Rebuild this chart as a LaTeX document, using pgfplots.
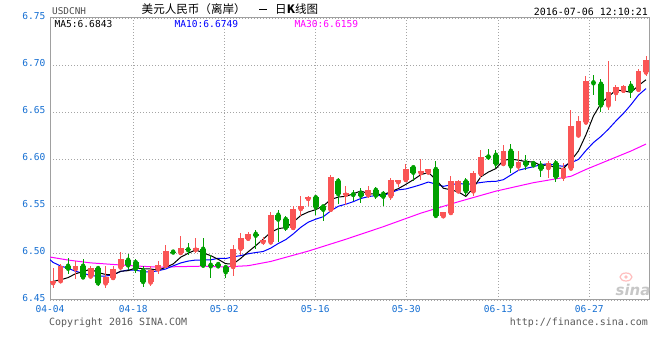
\documentclass[border=0pt]{standalone}
\usepackage{pgfplots}
\pgfplotsset{compat=1.18}
\usepackage{pgfplotstable}
\usepackage{fontspec}
\setmainfont{DejaVu Sans}
\newfontfamily\mono{DejaVu Sans Mono}
\newfontfamily\cjk{Noto Sans CJK SC}
\newcommand{\mf}{\mono\fontsize{9.6}{11}\selectfont}
\definecolor{upred}{RGB}{250,85,85}
\definecolor{dngreen}{RGB}{0,160,0}
\definecolor{tickblue}{RGB}{20,110,210}
\definecolor{framegray}{RGB}{160,160,160}
\definecolor{gridgray}{RGB}{165,165,165}
\definecolor{ma30}{RGB}{255,0,255}
\definecolor{ma10}{RGB}{0,0,255}

\pgfplotstableread{
i o h l c
1 6.4680 6.4840 6.4630 6.4700
2 6.4700 6.4880 6.4690 6.4865
4 6.4830 6.4920 6.4727 6.4865
6 6.4750 6.4860 6.4730 6.4840
8 6.4677 6.4857 6.4630 6.4740
9 6.4734 6.4857 6.4713 6.4833
10 6.4847 6.5010 6.4820 6.4940
14 6.4687 6.4857 6.4652 6.4822
15 6.4826 6.4910 6.4780 6.4872
16 6.4865 6.5088 6.4857 6.5024
18 6.5000 6.5177 6.4983 6.5053
20 6.5035 6.5160 6.5000 6.5053
25 6.4851 6.5088 6.4751 6.5046
26 6.5046 6.5213 6.4980 6.5160
27 6.5152 6.5220 6.5140 6.5205
29 6.5117 6.5170 6.5090 6.5141
30 6.5113 6.5432 6.5106 6.5408
33 6.5266 6.5496 6.5248 6.5468
34 6.5468 6.5610 6.5390 6.5496
35 6.5575 6.5603 6.5504 6.5593
38 6.5460 6.5835 6.5450 6.5809
40 6.5620 6.5716 6.5509 6.5636
43 6.5615 6.5716 6.5588 6.5668
46 6.5604 6.5801 6.5567 6.5772
47 6.5753 6.5780 6.5705 6.5774
48 6.5777 6.5945 6.5759 6.5894
50 6.5851 6.5998 6.5780 6.5870
51 6.5857 6.5897 6.5844 6.5894
53 6.5391 6.5439 6.5381 6.5431
54 6.5426 6.5822 6.5408 6.5769
55 6.5656 6.5780 6.5635 6.5762
57 6.5656 6.5869 6.5602 6.5851
58 6.5840 6.6091 6.5798 6.6017
61 6.5947 6.6152 6.5921 6.6088
63 6.5921 6.6081 6.5868 6.5964
67 6.5904 6.5974 6.5798 6.5957
69 6.5809 6.5957 6.5762 6.5904
70 6.5899 6.6524 6.5886 6.6347
71 6.6251 6.6453 6.6243 6.6407
72 6.6389 6.6886 6.6383 6.6825
75 6.6570 6.7038 6.6517 6.6709
76 6.6702 6.6790 6.6613 6.6762
77 6.6726 6.6785 6.6720 6.6780
79 6.6737 6.6957 6.6730 6.6932
80 6.6921 6.7091 6.6879 6.7056
}\upcandles

\pgfplotstableread{
i o h l c
3 6.4865 6.4947 6.4777 6.4833
5 6.4865 6.4940 6.4730 6.4740
7 6.4840 6.4857 6.4645 6.4677
11 6.4929 6.4990 6.4820 6.4868
12 6.4904 6.4936 6.4787 6.4830
13 6.4815 6.4857 6.4634 6.4691
17 6.5015 6.5035 6.4990 6.5005
19 6.5040 6.5106 6.4980 6.5030
21 6.5046 6.5160 6.4857 6.4865
22 6.4875 6.4980 6.4734 6.4858
23 6.4883 6.4900 6.4840 6.4858
24 6.4851 6.4876 6.4734 6.4794
28 6.5205 6.5248 6.5043 6.5184
31 6.5408 6.5460 6.5113 6.5355
32 6.5362 6.5390 6.5230 6.5266
36 6.5593 6.5620 6.5407 6.5485
37 6.5496 6.5500 6.5336 6.5460
39 6.5769 6.5801 6.5524 6.5626
41 6.5626 6.5673 6.5556 6.5617
42 6.5641 6.5695 6.5535 6.5610
44 6.5673 6.5705 6.5578 6.5610
45 6.5631 6.5663 6.5498 6.5599
49 6.5913 6.5929 6.5769 6.5854
52 6.5894 6.5974 6.5372 6.5394
56 6.5762 6.5798 6.5602 6.5656
59 6.6027 6.6106 6.5985 6.6017
60 6.6046 6.6091 6.5904 6.5950
62 6.6088 6.6160 6.5851 6.5921
64 6.5964 6.6046 6.5886 6.5939
65 6.5957 6.5980 6.5920 6.5932
66 6.5932 6.5974 6.5809 6.5894
68 6.5957 6.5993 6.5751 6.5809
73 6.6816 6.6897 6.6684 6.6805
74 6.6801 6.6854 6.6496 6.6570
78 6.6780 6.6833 6.6649 6.6726
}\dncandles

\begin{document}
\begin{tikzpicture}
\useasboundingbox (0,0) rectangle (660bp,360bp);
\begin{axis}[
  at={(50bp,60bp)}, anchor=south west,
  width=599bp, height=282bp, scale only axis,
  xmin=0.59, xmax=80.4, ymin=6.45, ymax=6.75,
  axis line style={draw=framegray, line width=1bp},
  tick style={draw=none},
  major tick length=0pt,
  xtick={0.59,11.69,23.81,35.94,48.06,60.32,72.45},
  xticklabels={04-04,04-18,05-02,05-16,05-30,06-13,06-27},
  ytick={6.45,6.50,6.55,6.60,6.65,6.70,6.75},
  yticklabels={6.45,6.50,6.55,6.60,6.65,6.70,6.75},
  grid=major,
  major grid style={draw=gridgray, line width=0.9bp, dash pattern=on 1bp off 2bp},
  xticklabel style={font=\mf, text=tickblue, inner sep=0pt, yshift=-5.5bp},
  yticklabel style={font=\mf, text=tickblue, inner sep=0pt, xshift=-4.5bp, yshift=2bp},
]
% MA30
\addplot[ma30, line width=1bp, mark=none] coordinates {
(0.59,6.4957) (3,6.4925) (6,6.4895) (9,6.4878) (12,6.4862) (15,6.4850) (18,6.4855)
(21,6.4860) (24,6.4852) (27,6.4865) (30,6.4910) (35,6.5020) (40,6.5146) (45,6.5280)
(50,6.5424) (55,6.5545) (60,6.5658) (65,6.5748) (70,6.5816) (72,6.5889) (75,6.5987)
(78,6.6085) (80,6.6159)};
% MA10
\addplot[ma10, line width=1bp, mark=none] coordinates {
(0.59,6.4929) (1,6.4900) (2,6.4862) (3,6.4838) (4,6.4805) (5,6.4785) (6,6.4760)
(7,6.4752) (8,6.4755) (9,6.4768) (10,6.4803) (11,6.4820) (12,6.4817) (13,6.4802)
(14,6.4798) (15,6.4811) (16,6.4830) (17,6.4863) (18,6.4894) (19,6.4914) (20,6.4925)
(21,6.4925) (22,6.4927) (23,6.4944) (24,6.4941) (25,6.4959) (26,6.4972) (27,6.4992)
(28,6.5005) (29,6.5016) (30,6.5052) (31,6.5101) (32,6.5142) (33,6.5203) (34,6.5273)
(35,6.5328) (36,6.5360) (37,6.5386) (38,6.5448) (39,6.5497) (40,6.5519) (41,6.5546)
(42,6.5580) (43,6.5600) (44,6.5611) (45,6.5612) (46,6.5641) (47,6.5672) (48,6.5681)
(49,6.5703) (50,6.5727) (51,6.5755) (52,6.5733) (53,6.5709) (54,6.5725) (55,6.5741)
(56,6.5730) (57,6.5738) (58,6.5750) (59,6.5760) (60,6.5762) (61,6.5780) (62,6.5830)
(63,6.5880) (64,6.5900) (65,6.5918) (66,6.5940) (67,6.5950) (68,6.5932) (69,6.5922)
(70,6.5960) (71,6.5995) (72,6.6090) (73,6.6175) (74,6.6240) (75,6.6318) (76,6.6405)
(77,6.6485) (78,6.6578) (79,6.6680) (80,6.6749)};
% MA5
\addplot[black, line width=1bp, mark=none] coordinates {
(0.59,6.4684) (1,6.4698) (2,6.4715) (3,6.4738) (4,6.4780) (5,6.4801) (6,6.4829)
(7,6.4791) (8,6.4772) (9,6.4766) (10,6.4806) (11,6.4812) (12,6.4842) (13,6.4832)
(14,6.4830) (15,6.4817) (16,6.4848) (17,6.4883) (18,6.4955) (19,6.4997) (20,6.5033)
(21,6.5001) (22,6.4972) (23,6.4933) (24,6.4886) (25,6.4884) (26,6.4943) (27,6.5013)
(28,6.5078) (29,6.5147) (30,6.5220) (31,6.5259) (32,6.5271) (33,6.5328) (34,6.5399)
(35,6.5436) (36,6.5462) (37,6.5500) (38,6.5569) (39,6.5595) (40,6.5603) (41,6.5630)
(42,6.5660) (43,6.5631) (44,6.5628) (45,6.5621) (46,6.5652) (47,6.5685) (48,6.5730)
(49,6.5779) (50,6.5833) (51,6.5857) (52,6.5781) (53,6.5689) (54,6.5672) (55,6.5650)
(56,6.5602) (57,6.5694) (58,6.5811) (59,6.5861) (60,6.5898) (61,6.5985) (62,6.5999)
(63,6.5988) (64,6.5972) (65,6.5969) (66,6.5930) (67,6.5937) (68,6.5906) (69,6.5899)
(70,6.5982) (71,6.6085) (72,6.6258) (73,6.6458) (74,6.6591) (75,6.6663) (76,6.6734)
(77,6.6725) (78,6.6709) (79,6.6782) (80,6.6843)};
% wicks
\addplot[forget plot, only marks, mark=none, upred,
  error bars/.cd, y dir=both, y explicit, error mark=none,
  error bar style={draw=upred, line width=1bp, solid}]
  table[x=i, y=o, y error plus expr=\thisrow{h}-\thisrow{o}, y error minus expr=\thisrow{o}-\thisrow{l}] {\upcandles};
\addplot[forget plot, only marks, mark=none, dngreen,
  error bars/.cd, y dir=both, y explicit, error mark=none,
  error bar style={draw=dngreen, line width=1bp, solid}]
  table[x=i, y=o, y error plus expr=\thisrow{h}-\thisrow{o}, y error minus expr=\thisrow{o}-\thisrow{l}] {\dncandles};
% bodies
\addplot[forget plot, only marks, mark=none, upred,
  error bars/.cd, y dir=plus, y explicit, error mark=none,
  error bar style={draw=upred, line width=5.8bp, solid}]
  table[x=i, y=o, y error expr=\thisrow{c}-\thisrow{o}] {\upcandles};
\addplot[forget plot, only marks, mark=none, dngreen,
  error bars/.cd, y dir=plus, y explicit, error mark=none,
  error bar style={draw=dngreen, line width=5.8bp, solid}]
  table[x=i, y=c, y error expr=\thisrow{o}-\thisrow{c}] {\dncandles};
\end{axis}
% texts
\node[anchor=west, inner sep=0pt, font=\mono\fontsize{9.4}{11}\selectfont, text=black!70] at (52bp,349bp) {USDCNH};
\node[anchor=west, inner sep=0pt, font=\cjk\fontsize{11.6}{13}\selectfont] at (141.5bp,350.5bp) {美元人民币（离岸）};
\fill[black] (258.5bp,350bp) rectangle (266.5bp,351.2bp);
\node[anchor=west, inner sep=0pt, font=\cjk\fontsize{11.6}{13}\selectfont] at (275bp,350.5bp) {日\textbf{K}线图};
\node[anchor=east, inner sep=0pt, font=\mono\fontsize{10}{11}\selectfont] at (648bp,348.5bp) {2016-07-06 12:10:21};
\node[anchor=west, inner sep=0pt, font=\mf, text=black] at (54.5bp,336.3bp) {MA5:6.6843};
\node[anchor=west, inner sep=0pt, font=\mf, text=ma10] at (174.5bp,336.3bp) {MA10:6.6749};
\node[anchor=west, inner sep=0pt, font=\mf, text=ma30] at (294.5bp,336.3bp) {MA30:6.6159};
\node[anchor=west, inner sep=0pt, font=\mono\fontsize{10}{11}\selectfont, text=black!65] at (49bp,37bp) {Copyright 2016 SINA.COM};
\node[anchor=east, inner sep=0pt, font=\mono\fontsize{10}{11}\selectfont, text=black!65] at (648bp,37bp) {http://finance.sina.com};
\draw[red!25, line width=1.2bp] (626bp,83bp) ellipse (6bp and 4bp);
\fill[red!25] (626bp,83bp) circle (1.8bp);
\node[inner sep=0pt, font=\bfseries\itshape\fontsize{15}{15}\selectfont, text=black!22] at (633bp,70bp) {sina};
\end{tikzpicture}
\end{document}
